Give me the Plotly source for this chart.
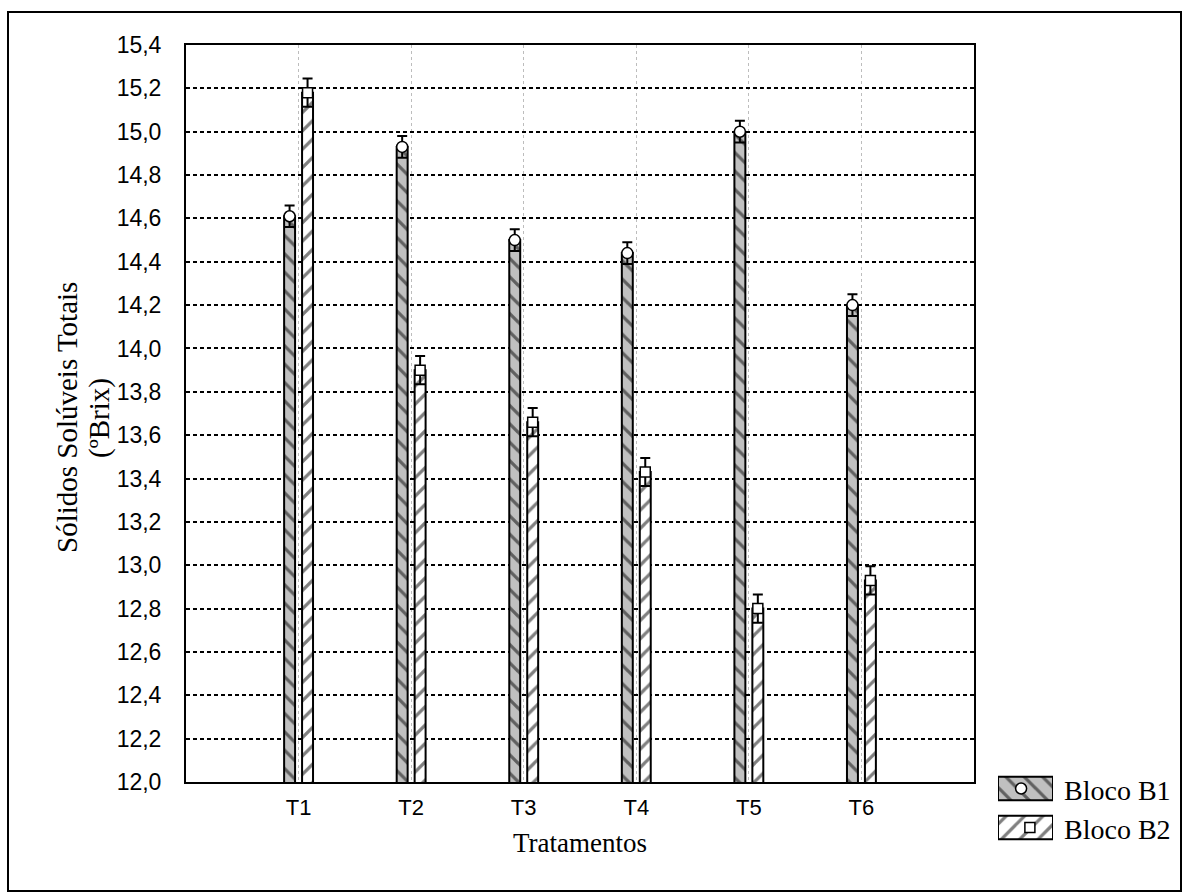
import plotly.graph_objects as go

categories = ["T1", "T2", "T3", "T4", "T5", "T6"]
bloco_b1 = [14.61, 14.93, 14.50, 14.44, 15.00, 14.20]
bloco_b2 = [15.18, 13.90, 13.66, 13.43, 12.80, 12.93]
err_b1 = [0.05, 0.05, 0.05, 0.05, 0.05, 0.05]
err_b2 = [0.065, 0.065, 0.065, 0.065, 0.065, 0.065]
y_ticks = [12.0, 12.2, 12.4, 12.6, 12.8, 13.0, 13.2, 13.4, 13.6, 13.8, 14.0,
           14.2, 14.4, 14.6, 14.8, 15.0, 15.2, 15.4]
series_names = ["Bloco B1", "Bloco B2"]
y_title_lines = ["Sólidos Solúveis Totais", "(ºBrix)"]
x_title = "Tratamentos"

W, H = 1183, 893
L, R, T, B = 186, 974, 45, 782

def px_x(p):
    return p / W

def px_y(p):
    return (H - p) / H

b1_marker = dict(color="#c0c0c0", line=dict(color="black", width=2),
                 pattern=dict(shape="\\", fgcolor="black", bgcolor="#c0c0c0",
                              size=13, solidity=0.25))
b2_marker = dict(color="white", line=dict(color="black", width=2),
                 pattern=dict(shape="/", fgcolor="black", bgcolor="white",
                              size=13, solidity=0.25))
circle_marker = dict(symbol="circle", size=11, color="white", line=dict(color="black", width=1.5))
square_marker = dict(symbol="square", size=10, color="white", line=dict(color="black", width=1.5))

fig = go.Figure()
fig.add_trace(go.Bar(
    x=categories, y=bloco_b1, name=series_names[0], offsetgroup="b1",
    marker=b1_marker, showlegend=False,
    error_y=dict(type="data", array=err_b1, color="black", thickness=2, width=5),
))
fig.add_trace(go.Bar(
    x=categories, y=bloco_b2, name=series_names[1], offsetgroup="b2",
    marker=b2_marker, showlegend=False,
    error_y=dict(type="data", array=err_b2, color="black", thickness=2, width=5),
))
fig.add_trace(go.Scatter(
    x=categories, y=bloco_b1, mode="markers", offsetgroup="b1", showlegend=False,
    marker=circle_marker,
))
fig.add_trace(go.Scatter(
    x=categories, y=bloco_b2, mode="markers", offsetgroup="b2", showlegend=False,
    marker=square_marker,
))

# legend swatches (a tiny subplot so they can be large and carry the markers)
fig.add_trace(go.Bar(
    x=[1], y=[1], orientation="h", base=0, width=0.6, offset=-0.3,
    marker=b1_marker, xaxis="x2", yaxis="y2", showlegend=False, hoverinfo="skip",
))
fig.add_trace(go.Bar(
    x=[1], y=[0], orientation="h", base=0, width=0.6, offset=-0.3,
    marker=b2_marker, xaxis="x2", yaxis="y2", showlegend=False, hoverinfo="skip",
))
fig.add_trace(go.Scatter(
    x=[0.5], y=[1], mode="markers", xaxis="x2", yaxis="y2", showlegend=False,
    marker=circle_marker,
))
fig.add_trace(go.Scatter(
    x=[0.5], y=[0], mode="markers", xaxis="x2", yaxis="y2", showlegend=False,
    marker=square_marker,
))

for i, name in enumerate(series_names):
    fig.add_annotation(text=name, xref="paper", yref="y2", x=px_x(1062), y=1 - i,
                       xanchor="left", yanchor="middle", showarrow=False, yshift=-2,
                       font=dict(family="Liberation Serif", size=28, color="black"))

for xp, line in zip([67, 99], y_title_lines):
    fig.add_annotation(text=line, xref="paper", yref="paper",
                       x=px_x(xp), y=px_y(418), textangle=-90, showarrow=False,
                       xanchor="center", yanchor="middle",
                       font=dict(family="Liberation Serif", size=29, color="black"))
fig.add_annotation(text=x_title, xref="paper", yref="paper",
                   x=(L + R) / 2 / W, y=px_y(843), showarrow=False,
                   xanchor="center", yanchor="middle",
                   font=dict(family="Liberation Serif", size=27, color="black"))

fig.add_shape(type="rect", xref="paper", yref="paper",
              x0=px_x(8), x1=px_x(1181), y0=px_y(891), y1=px_y(12),
              line=dict(color="black", width=2), layer="below")

fig.update_layout(
    width=W, height=H,
    margin=dict(l=0, r=0, t=0, b=0),
    paper_bgcolor="white", plot_bgcolor="white",
    barmode="group", bargap=0.681, bargroupgap=0.39,
    scattermode="group",
    separators=",.",
    showlegend=False,
    font=dict(family="Liberation Sans", size=22, color="black"),
    xaxis=dict(
        domain=[px_x(L), px_x(R)], automargin=False,
        range=[-1, 6], showline=True, linecolor="black", linewidth=2, mirror=True,
        showgrid=True, gridcolor="#bdbdbd", griddash="dot", gridwidth=1,
        ticks="", ticklabelstandoff=5,
        tickfont=dict(family="Liberation Sans", size=22),
    ),
    yaxis=dict(
        domain=[px_y(B), px_y(T)], automargin=False,
        range=[12.0, 15.4], tickvals=y_ticks, tickformat=".1f",
        showline=True, linecolor="black", linewidth=2, mirror=True,
        showgrid=True, gridcolor="black", griddash="4px,3px", gridwidth=2,
        zeroline=False, ticks="", ticklabelstandoff=18,
        tickfont=dict(family="Liberation Sans", size=23),
    ),
    xaxis2=dict(domain=[px_x(998), px_x(1053)], range=[0, 1], visible=False,
                fixedrange=True, anchor="y2", automargin=False),
    yaxis2=dict(domain=[px_y(847), px_y(769)], range=[-0.5, 1.5], visible=False,
                fixedrange=True, anchor="x2", automargin=False),
)

fig.write_html("out.html")
